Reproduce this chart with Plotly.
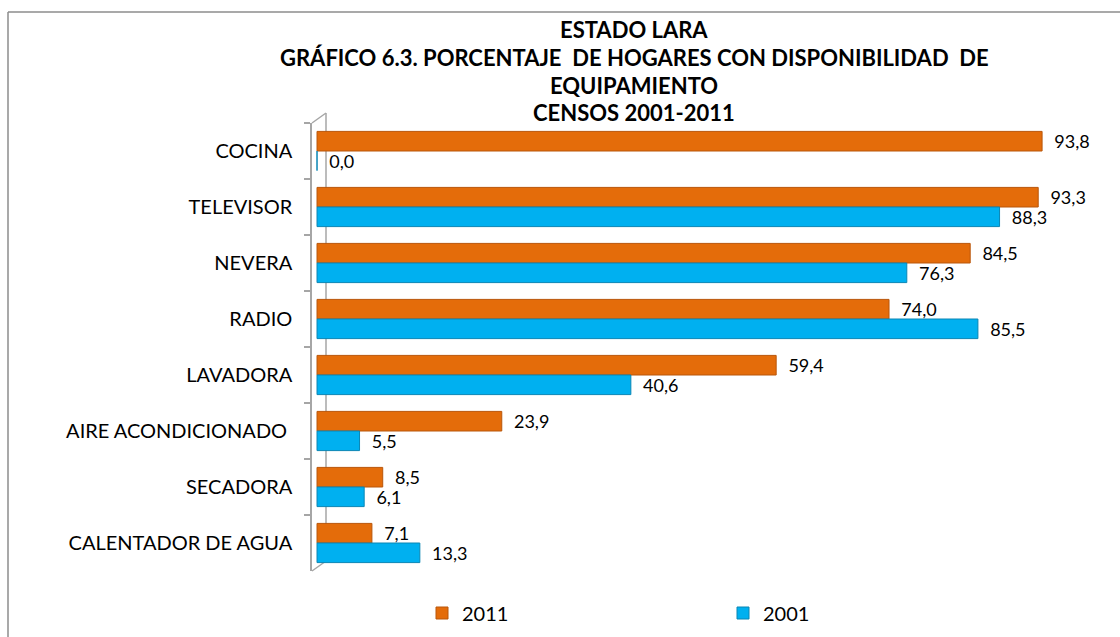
import plotly.graph_objects as go

categories = ["COCINA", "TELEVISOR", "NEVERA", "RADIO", "LAVADORA",
              "AIRE ACONDICIONADO ", "SECADORA", "CALENTADOR DE AGUA"]
values_2011 = [93.8, 93.3, 84.5, 74.0, 59.4, 23.9, 8.5, 7.1]
values_2001 = [0.0, 88.3, 76.3, 85.5, 40.6, 5.5, 6.1, 13.3]
series_names = ["2011", "2001"]
title_lines = ["ESTADO LARA",
               "GRÁFICO 6.3. PORCENTAJE  DE HOGARES CON DISPONIBILIDAD  DE",
               "EQUIPAMIENTO",
               "CENSOS 2001-2011"]

W, H = 1120, 637
L, R, T, B = 312, 1090, 123, 571
FONT = "Lato"
NB = "\u00a0\u00a0"

def px(x):
    return (x - L) / (R - L)

def py(y):
    return (B - y) / (B - T)

fig = go.Figure()
fig.add_trace(go.Bar(
    y=categories, x=values_2011, name=series_names[0], orientation="h",
    marker=dict(color="#E46C0A", line=dict(color="#B9560A", width=1)),
    texttemplate=NB + "%{x:.1f}", textposition="outside", constraintext="none",
    textfont=dict(family=FONT, size=18, color="#000000"), cliponaxis=False,
))
fig.add_trace(go.Bar(
    y=categories, x=values_2001, name=series_names[1], orientation="h",
    marker=dict(color="#00B0F0", line=dict(color="#0A86B4", width=1)),
    texttemplate=NB + "%{x:.1f}", textposition="outside", constraintext="none",
    textfont=dict(family=FONT, size=18, color="#000000"), cliponaxis=False,
))

shapes = [
    # chart border
    dict(type="line", xref="paper", yref="paper", x0=px(8), x1=px(8), y0=py(12), y1=py(640),
         line=dict(color="#8C8C8C", width=1.5)),
    dict(type="line", xref="paper", yref="paper", x0=px(8), x1=px(1125), y0=py(12), y1=py(12),
         line=dict(color="#8C8C8C", width=1.5)),
    # 3D wall
    dict(type="line", xref="paper", yref="paper", x0=px(326), x1=px(326), y0=py(113), y1=py(561),
         line=dict(color="#A6A6A6", width=1.5), layer="below"),
    dict(type="line", xref="paper", yref="paper", x0=px(312), x1=px(326), y0=py(123), y1=py(113),
         line=dict(color="#A6A6A6", width=1.5), layer="below"),
    dict(type="line", xref="paper", yref="paper", x0=px(312), x1=px(326), y0=py(571), y1=py(561),
         line=dict(color="#A6A6A6", width=1.5), layer="below"),
]

annotations = []
for line, yc in zip(title_lines, [30, 58, 86, 113]):
    annotations.append(dict(
        text="<b>" + line + "</b>", xref="paper", yref="paper",
        x=px(634), y=py(yc), xanchor="center", yanchor="middle", showarrow=False,
        font=dict(family=FONT, size=22, color="#000000"),
    ))

fig.update_layout(
    width=W, height=H,
    margin=dict(l=L, r=W - R, t=T, b=H - B, pad=0, autoexpand=False),
    paper_bgcolor="white", plot_bgcolor="white",
    barmode="group", bargap=0.3, bargroupgap=0,
    separators=",.",
    showlegend=True,
    legend=dict(orientation="h", x=px(422), y=py(613), xanchor="left", yanchor="middle",
                entrywidth=256, font=dict(family=FONT, size=20, color="#000000"),
                traceorder="normal"),
    xaxis=dict(range=[-0.65, 100], visible=False, showgrid=False, zeroline=False),
    yaxis=dict(categoryorder="array", categoryarray=categories, autorange="reversed",
               showline=True, linecolor="#A6A6A6", linewidth=1.5,
               ticks="outside", tickson="boundaries", ticklen=6, tickcolor="#A6A6A6",
               tickwidth=1.5, ticklabelstandoff=14, showgrid=False, automargin=False,
               tickfont=dict(family=FONT, size=20, color="#000000")),
    shapes=shapes, annotations=annotations,
    font=dict(family=FONT),
)

fig.write_html("out.html", config={"displayModeBar": False},
               post_script="document.body.style.margin='0';")
